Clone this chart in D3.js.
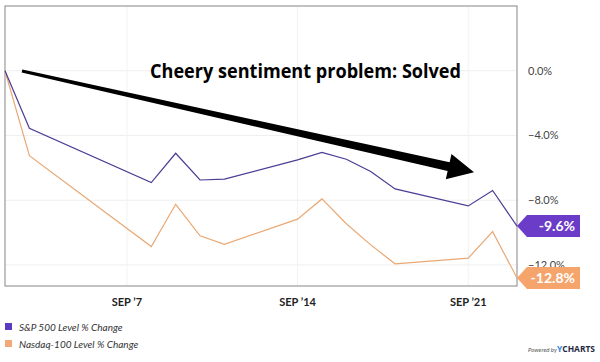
<!DOCTYPE html>
<html lang="en">
<head>
<meta charset="utf-8">
<title>S&amp;P 500 vs Nasdaq-100, % change</title>
<script src="https://d3js.org/d3.v7.min.js"></script>
<style>
  body { margin: 0; background: #fff; }
  svg { display: block; }
</style>
</head>
<body>
<svg id="chart" width="600" height="362"></svg>
<script>
// dates of the closes (day index from the first point is what matters)
var dates = ["2022-09-02", "2022-09-03", "2022-09-08", "2022-09-09", "2022-09-10", "2022-09-11",
             "2022-09-14", "2022-09-15", "2022-09-16", "2022-09-17", "2022-09-18",
             "2022-09-21", "2022-09-22", "2022-09-23"];
// % change since first point
var spx = [0, -3.56, -6.91, -5.10, -6.75, -6.70, -5.51, -5.04, -5.47, -6.23, -7.30, -8.35, -7.40, -9.6];
var ndx = [0, -5.25, -10.86, -8.25, -10.20, -10.72, -9.17, -7.92, -9.45, -10.76, -11.93, -11.58, -9.94, -12.8];
var xTicks = ["2022-09-07", "2022-09-14", "2022-09-21"];
var xTickLabels = ["SEP \u20197", "SEP \u201914", "SEP \u201921"];
var yTicks = [0, -4, -8, -12];
var seriesNames = ["S&P 500 Level % Change", "Nasdaq-100 Level % Change"];
var lastLabels = ["-9.6%", "-12.8%"];

var parse = d3.timeParse("%Y-%m-%d");

var svg = d3.select("#chart");
// plot box (note: "top" is reserved on window, so use prefixed names)
var plotL = 5, plotR = 517, plotT = 6, plotB = 286;

var x = d3.scaleTime()
    .domain([parse("2022-09-02"), parse("2022-09-23")])
    .range([plotL, plotR]);
var y = d3.scaleLinear()
    .domain([-13.3, 4.0])
    .range([plotB, plotT]);

// grid
svg.append("g").selectAll("line").data(yTicks).join("line")
    .attr("x1", plotL).attr("x2", plotR)
    .attr("y1", function(d){ return y(d); }).attr("y2", function(d){ return y(d); })
    .attr("stroke", "#efefef").attr("stroke-width", 1);
svg.append("g").selectAll("line").data(xTicks).join("line")
    .attr("x1", function(d){ return x(parse(d)); }).attr("x2", function(d){ return x(parse(d)); })
    .attr("y1", plotT).attr("y2", plotB)
    .attr("stroke", "#f2f2f2").attr("stroke-width", 1);

// frame
svg.append("rect")
    .attr("x", plotL).attr("y", plotT)
    .attr("width", plotR - plotL).attr("height", plotB - plotT)
    .attr("fill", "none").attr("stroke", "#999").attr("stroke-width", 1.2);

// lines
var line = d3.line()
    .x(function(d){ return x(parse(d[0])); })
    .y(function(d){ return y(d[1]); });

svg.append("path")
    .datum(d3.zip(dates, ndx))
    .attr("d", line)
    .attr("fill", "none").attr("stroke", "#e9a874").attr("stroke-width", 1.2);
svg.append("path")
    .datum(d3.zip(dates, spx))
    .attr("d", line)
    .attr("fill", "none").attr("stroke", "#4c3c94").attr("stroke-width", 1.2);

// x tick labels
svg.append("g").selectAll("text").data(xTicks).join("text")
    .attr("x", function(d){ return x(parse(d)); })
    .attr("y", 306)
    .attr("text-anchor", "middle")
    .attr("font-family", "Lato, 'Open Sans', sans-serif")
    .attr("font-weight", "bold").attr("font-size", 11)
    .attr("fill", "#222")
    .text(function(d, i){ return xTickLabels[i]; });

// y tick labels
svg.append("g").selectAll("text").data(yTicks).join("text")
    .attr("x", 528)
    .attr("y", function(d){ return y(d) + 4; })
    .attr("font-family", "Lato, 'Open Sans', sans-serif")
    .attr("font-size", 11)
    .attr("fill", "#444")
    .text(function(d){ return d3.format(".1f")(d) + "%"; });

// last value badges
var badgeColors = ["#6a3cc8", "#f5a46c"];
var lastVals = [spx[spx.length - 1], ndx[ndx.length - 1]];
lastVals.forEach(function(v, i){
    var cy = y(v), h = 22, w = 63, tip = 10;
    var x0 = plotR;
    svg.append("path")
        .attr("d", "M" + x0 + "," + cy +
                   "L" + (x0 + tip) + "," + (cy - h / 2) +
                   "L" + (x0 + w) + "," + (cy - h / 2) +
                   "L" + (x0 + w) + "," + (cy + h / 2) +
                   "L" + (x0 + tip) + "," + (cy + h / 2) + "Z")
        .attr("fill", badgeColors[i]);
    svg.append("text")
        .attr("x", x0 + w - 5).attr("y", cy + 5)
        .attr("text-anchor", "end")
        .attr("font-family", "Lato, 'Open Sans', sans-serif")
        .attr("font-weight", "bold").attr("font-size", 14)
        .attr("fill", "#fff")
        .text(lastLabels[i]);
});

// annotation
svg.append("text")
    .attr("x", 150).attr("y", 78)
    .attr("font-family", "'Open Sans', sans-serif")
    .attr("font-weight", "bold").attr("font-size", 20)
    .attr("textLength", 311).attr("lengthAdjust", "spacingAndGlyphs")
    .attr("fill", "#000")
    .text("Cheery sentiment problem: Solved");

// tapered arrow
(function(){
    var sx = 22, sy = 71, ex = 474, ey = 172.3;
    var dx = ex - sx, dy = ey - sy, len = Math.sqrt(dx * dx + dy * dy);
    var ux = dx / len, uy = dy / len, nx = -uy, ny = ux;
    var headLen = 26, w0 = 1.5, w1 = 4.5, hw = 13;
    var bx = ex - ux * headLen, by = ey - uy * headLen;
    var pts = [
        [sx + nx * w0, sy + ny * w0],
        [bx + nx * w1, by + ny * w1],
        [bx + nx * hw, by + ny * hw],
        [ex, ey],
        [bx - nx * hw, by - ny * hw],
        [bx - nx * w1, by - ny * w1],
        [sx - nx * w0, sy - ny * w0]
    ];
    svg.append("path")
        .attr("d", "M" + pts.map(function(p){ return p[0] + "," + p[1]; }).join("L") + "Z")
        .attr("fill", "#000");
})();

// legend
var legend = svg.append("g").selectAll("g").data(seriesNames).join("g")
    .attr("transform", function(d, i){ return "translate(5," + (327 + i * 17) + ")"; });
legend.append("rect")
    .attr("x", 0).attr("y", -4).attr("width", 7).attr("height", 7)
    .attr("fill", function(d, i){ return i === 0 ? "#5a3bbf" : "#f2a878"; });
legend.append("text")
    .attr("x", 14).attr("y", 4)
    .attr("font-family", "Lato, 'Open Sans', sans-serif")
    .attr("font-style", "italic").attr("font-size", 10)
    .attr("fill", "#333")
    .text(function(d){ return d; });

// powered by
svg.append("text")
    .attr("x", 528).attr("y", 352)
    .attr("font-family", "Lato, sans-serif")
    .attr("font-style", "italic").attr("font-size", 6)
    .attr("fill", "#555")
    .text("Powered by");
var yc = svg.append("text")
    .attr("x", 557).attr("y", 352)
    .attr("font-family", "'Open Sans', sans-serif")
    .attr("font-weight", "bold").attr("font-size", 8.5)
    .attr("textLength", 38).attr("lengthAdjust", "spacingAndGlyphs")
    .attr("fill", "#1f2a44");
yc.append("tspan").attr("fill", "#2b7fe0").text("Y");
yc.append("tspan").text("CHARTS");
</script>
</body>
</html>
